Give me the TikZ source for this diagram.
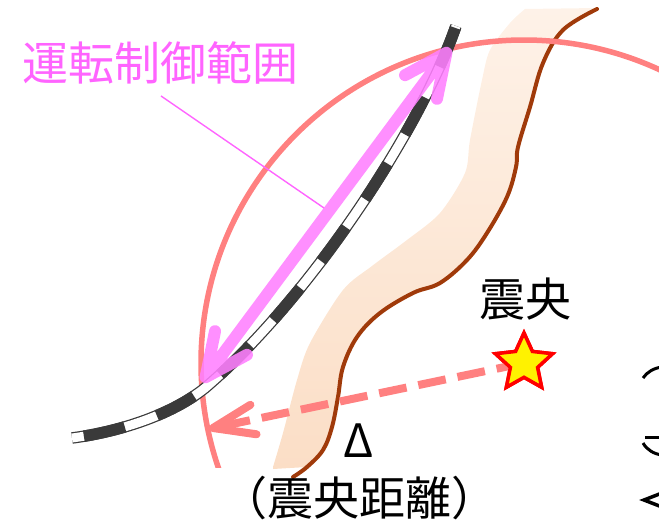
\documentclass[tikz,border=0pt]{standalone}
\usepackage{fontspec}
\setmainfont{Noto Sans CJK JP}
\usetikzlibrary{calc,shapes.geometric}
\definecolor{salmon}{RGB}{255,128,128}
\definecolor{magline}{RGB}{255,128,255}
\definecolor{magtext}{RGB}{255,100,255}
\definecolor{bankbrown}{RGB}{160,58,10}
\definecolor{bandtop}{RGB}{254,242,232}
\definecolor{bandbot}{RGB}{251,222,198}
\definecolor{raildark}{RGB}{58,58,58}
\begin{document}
\begin{tikzpicture}[x=1pt,y=-1pt,
  every node/.style={inner sep=0pt, font=\fontsize{46pt}{52pt}\selectfont},
  trackedge/.style={draw=raildark, line width=11.5pt},
  trackfill/.style={draw=white, line width=9pt},
  trackdash/.style={draw=raildark, line width=11.5pt, dash pattern=on 42pt off 34pt, dash phase=64pt},
  rangearrow/.style={draw=magline, line width=12pt, line cap=round, line join=round, draw opacity=0.88},
  leader/.style={draw=magtext, line width=1.4pt},
  distshaft/.style={draw=salmon, line width=8pt, dash pattern=on 28pt off 12pt},
  distbarb/.style={draw=salmon, line width=8pt, line cap=round, line join=round},
  epistar/.style={star, star points=5, star point ratio=2.1, minimum size=60pt, fill=yellow, draw=red, line width=3.5pt},
  fragment/.style={draw=black, line width=3pt}]
\useasboundingbox (0,0) rectangle (659,522);
\clip (0,0) rectangle (659,522);

% coastal band with its shoreline
\shade[top color=bandtop, bottom color=bandbot]
  (273,469) -- plot[smooth, tension=0.5] coordinates {(273,467) (283,433) (297,380) (310,343) (343,290) (372,266) (407,240) (440,213) (465,173) (470,140) (482,80) (490,50) (510,23) (525,9)}
  -- (597,8) -- plot[smooth, tension=0.6] coordinates {(597,9) (563,30) (543,63) (530,107) (518,147) (516,167) (507,197) (487,233) (467,260) (440,283) (413,293) (380,313) (357,337) (343,367) (338,397) (332,427) (323,450) (307,467)} -- cycle;
\draw[bankbrown, line width=4pt, line cap=round] plot[smooth, tension=0.6] coordinates {(597,9) (563,30) (543,63) (530,107) (518,147) (516,167) (507,197) (487,233) (467,260) (440,283) (413,293) (380,313) (357,337) (343,367) (338,397) (332,427) (323,450) (307,467) (293,477)};

% epicentre and the circle of equal epicentral distance
\coordinate (epi) at (524,363);
\begin{scope}
  \clip (0,0) rectangle (659,467);
  \draw[salmon, line width=5.5pt] (epi) circle[radius=323pt];
\end{scope}

% railway line
\foreach \st in {trackedge,trackfill,trackdash}
  \path[\st] (72,438) .. controls (117,432) and (170,416) .. (205,388)
                      .. controls (305,303) and (417.5,136) .. (456,26);

% epicentral distance arrow
\node[epistar] (star) at (epi) {};
\coordinate (dtip) at (213,428);
\draw[distshaft] (star.center) -- ($(dtip)!3pt!(star.center)$);
\node[epistar] at (epi) {};
\draw[distbarb] ($(dtip)!44pt!20:(star.center)$) -- (dtip) -- ($(dtip)!44pt!-20:(star.center)$);

% train control range
\coordinate (mlo) at (205.6,377.2);
\coordinate (mhi) at (446.4,52.8);
\draw[rangearrow] (mlo) -- (mhi)
  ($(mhi)!47pt!25:(mlo)$) -- (mhi) -- ($(mhi)!47pt!-25:(mlo)$)
  ($(mlo)!47pt!25:(mhi)$) -- (mlo) -- ($(mlo)!47pt!-25:(mhi)$);

% labels
\node[anchor=base, text=magtext] (lab) at (161,80) {運転制御範囲};
\coordinate (lead) at (324,208);
\draw[leader] ([yshift=-12pt]lab.south) -- (lead);
\node[anchor=base] (epitext) at (525,316) {震央};
\node[anchor=base] (delta) at (359,457) {Δ};
\node[anchor=base] (dist) at (359,515) {（震央距離）};

% neighbouring figure at the right edge
\draw[fragment] (643,378) .. controls (647,372) and (654,368) .. (662,367);
\draw[fragment] (643,443) .. controls (647,450) and (654,454) .. (662,455);
\draw[fragment] (645,437) -- (660,437);
\draw[draw=black, line width=1pt, dash pattern=on 4pt off 3pt] (659,383) -- (659,430);
\draw[draw=black, line width=3.5pt] (662,493) -- (644,500) -- (662,507);
\end{tikzpicture}
\end{document}
